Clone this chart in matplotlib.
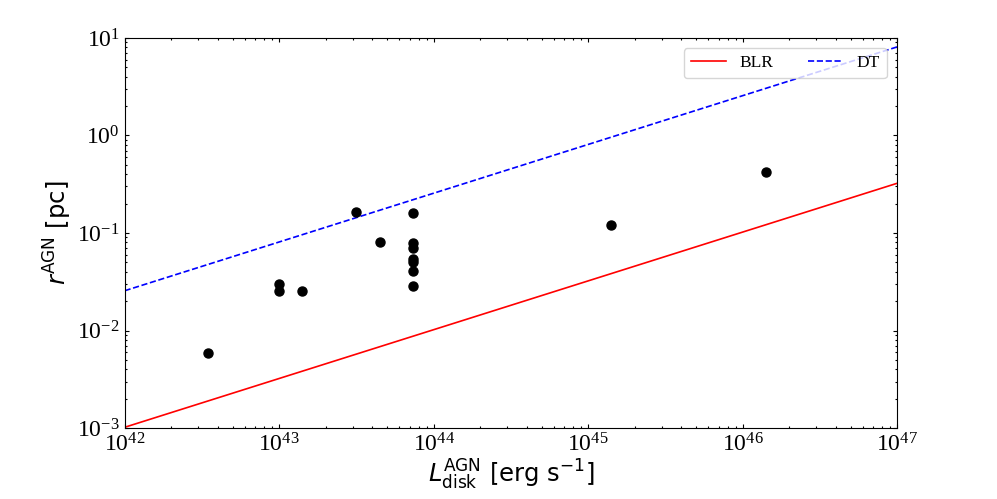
import matplotlib
matplotlib.use("Agg")
import matplotlib.pyplot as plt

# Data
L_line = [1e42, 1e47]
r_blr = [1.02e-3, 0.324]
r_dt = [0.0256, 8.1]

L_pts = [3.45e42, 1.0e43, 1.0e43, 1.41e43, 3.15e43, 4.46e43,
         7.36e43, 7.36e43, 7.36e43, 7.36e43, 7.36e43, 7.36e43, 7.36e43,
         1.41e45, 1.42e46]
r_pts = [0.00594, 0.0301, 0.0256, 0.0256, 0.164, 0.081,
         0.160, 0.0796, 0.0697, 0.0542, 0.0501, 0.0408, 0.0289,
         0.120, 0.419]

fig = plt.figure(figsize=(9.97, 4.99), dpi=100)
ax = fig.add_axes([0.125, 0.142, 0.775, 0.782])

ax.plot(L_line, r_blr, color='red', lw=1.2, label='BLR')
ax.plot(L_line, r_dt, color='blue', lw=1.2, ls='--', label='DT')
ax.plot(L_pts, r_pts, 'o', color='black', ms=6.5, ls='none')

ax.set_xscale('log')
ax.set_yscale('log')
ax.set_xlim(1e42, 1e47)
ax.set_ylim(1e-3, 1e1)

ax.tick_params(which='both', direction='in', top=True, right=True, labelsize=17)
ax.tick_params(which='major', length=3, width=0.8)
ax.tick_params(which='minor', length=1.5, width=0.8)
for lab in ax.get_xticklabels() + ax.get_yticklabels():
    lab.set_fontfamily('Liberation Serif')

ax.set_xlabel(r'$L_{\rm disk}^{\rm AGN}$ [erg s$^{-1}$]', fontsize=17.5, labelpad=1)
ax.set_ylabel(r'$r^{\rm AGN}$ [pc]', fontsize=17.5, labelpad=2)

ax.legend(loc='upper right', ncol=2, prop={'family': 'Liberation Serif', 'size': 12.5},
          fancybox=True, framealpha=0.8, borderaxespad=0.6)

fig.savefig('out.png', dpi=100)
